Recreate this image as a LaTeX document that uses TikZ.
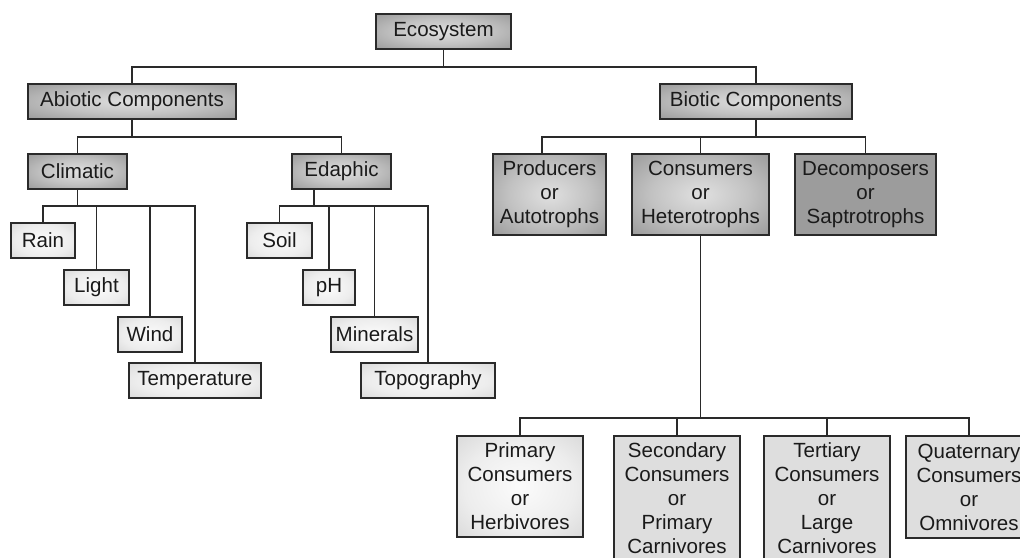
\documentclass[tikz,border=0pt]{standalone}
\usepackage{fontspec}
\setmainfont{Liberation Sans}
\usetikzlibrary{calc}
\definecolor{edgegray}{HTML}{2A2A2A}
\definecolor{linegray}{HTML}{2A2A2A}
\definecolor{txt}{HTML}{1A1A1A}
\definecolor{darkin}{HTML}{E0E0E0}
\definecolor{darkmid}{HTML}{C2C2C2}
\definecolor{darkout}{HTML}{7A7A7A}
\definecolor{leafin}{HTML}{FBFBFB}
\definecolor{leafmid}{HTML}{EDEDED}
\definecolor{leafout}{HTML}{C6C6C6}
% radial fills for the boxes (the box edges sit at 50bp)
\pgfdeclareradialshading{darkglow}{\pgfpoint{0bp}{0bp}}{color(0bp)=(darkin); color(18bp)=(darkmid); color(50bp)=(darkout)}
\pgfdeclareradialshading{leafglow}{\pgfpoint{0bp}{0bp}}{color(0bp)=(leafin); color(22bp)=(leafmid); color(50bp)=(leafout)}
\begin{document}
\begin{tikzpicture}[x=0.75pt,y=-0.75pt,
  every node/.style={font=\fontsize{15.4}{18}\selectfont, text=txt, align=center, inner sep=0pt},
  box/.style={draw=edgegray, line width=1.2pt, rectangle},
  darkbox/.style={box, shading=darkglow},
  flatdark/.style={box, fill=white!61!black},
  leafbox/.style={box, shading=leafglow},
  flatlight/.style={box, fill=white!87!black},
  link/.style={draw=linegray, line width=1.45pt}]
\useasboundingbox (0,0) rectangle (1020,557);
\clip (0,0) rectangle (1020,557);

% root and main branches
\node[darkbox, minimum width=101.25pt, minimum height=26.25pt] (eco) at (443.5,31.5) {Ecosystem};
\node[darkbox, minimum width=156pt, minimum height=26.25pt] (abio) at (132,101.5) {Abiotic Components};
\node[darkbox, minimum width=144pt, minimum height=26.25pt] (bio) at (756,101.5) {Biotic Components};

% abiotic side
\node[darkbox, minimum width=74.25pt, minimum height=26.25pt] (clim) at (77.5,171.5) {Climatic};
\node[darkbox, minimum width=74.25pt, minimum height=26.25pt] (eda) at (341.5,171.5) {Edaphic};

\node[leafbox, minimum width=48pt, minimum height=26.25pt] (rain) at (43,240.5) {Rain};
\node[leafbox, minimum width=48.75pt, minimum height=26.25pt] (light) at (96.5,287.5) {Light};
\node[leafbox, minimum width=48pt, minimum height=26.25pt] (wind) at (150,334.5) {Wind};
\node[leafbox, minimum width=99pt, minimum height=26.25pt] (temp) at (195,380.5) {Temperature};

\node[leafbox, minimum width=48.75pt, minimum height=26.25pt] (soil) at (279.5,240.5) {Soil};
\node[leafbox, minimum width=39pt, minimum height=26.25pt] (ph) at (329,287.5) {pH};
\node[leafbox, minimum width=65.25pt, minimum height=26.25pt] (minr) at (374.5,334.5) {Minerals};
\node[leafbox, minimum width=100.5pt, minimum height=26.25pt] (topo) at (428,380.5) {Topography};

% biotic side
\node[darkbox, minimum width=84.75pt, minimum height=60.75pt] (prod) at (549.5,194.5) {Producers\\or\\Autotrophs};
\node[darkbox, minimum width=102.75pt, minimum height=60.75pt] (cons) at (700.5,194.5) {Consumers\\or\\Heterotrophs};
\node[flatdark, minimum width=105.75pt, minimum height=60.75pt] (deco) at (865.5,194.5) {Decomposers\\or\\Saptrotrophs};

% consumer levels
\node[leafbox, minimum width=94.5pt, minimum height=75.75pt] (prim) at (520,486.5) {Primary\\Consumers\\or\\Herbivores};
\node[flatlight, minimum width=94.5pt, minimum height=93.75pt] (seco) at (677,498.5) {Secondary\\Consumers\\or\\Primary\\Carnivores};
\node[flatlight, minimum width=94.5pt, minimum height=93.75pt] (tert) at (827,498.5) {Tertiary\\Consumers\\or\\Large\\Carnivores};
\node[flatlight, minimum width=94.5pt, minimum height=76.5pt] (quat) at (969,487) {Quaternary\\Consumers\\or\\Omnivores};

% bus levels
\coordinate (busA) at (0,67);
\coordinate (busB) at (0,137);
\coordinate (busC) at (0,206);
\coordinate (busD) at (0,418);

% Ecosystem -> Abiotic / Biotic
\draw[link] (eco.south) -- (eco.south |- busA);
\draw[link] (abio.north) -- (abio.north |- busA) -- (bio.north |- busA) -- (bio.north);

% Abiotic -> Climatic / Edaphic
\draw[link] (abio.south) -- (abio.south |- busB);
\draw[link] (clim.north) -- (clim.north |- busB) -- (eda.north |- busB) -- (eda.north);

% Climatic -> factors
\draw[link] (clim.south) -- (clim.south |- busC);
\draw[link] (rain.north) -- (rain.north |- busC) -- (temp.north |- busC) -- (temp.north);
\draw[link] (light.north) -- (light.north |- busC);
\draw[link] (wind.north) -- (wind.north |- busC);

% Edaphic -> factors
\coordinate (edaout) at ($(eda.south west)!0.222!(eda.south east)$);
\draw[link] (edaout) -- (edaout |- busC);
\draw[link] (soil.north) -- (soil.north |- busC) -- (topo.north |- busC) -- (topo.north);
\draw[link] (ph.north) -- (ph.north |- busC);
\draw[link] (minr.north) -- (minr.north |- busC);

% Biotic -> producers, consumers, decomposers
\coordinate (prodin) at ($(prod.north west)!0.434!(prod.north east)$);
\draw[link] (bio.south) -- (bio.south |- busB);
\draw[link] (prodin) -- (prodin |- busB) -- (deco.north |- busB) -- (deco.north);
\draw[link] (cons.north) -- (cons.north |- busB);

% Consumers -> trophic levels
\draw[link] (cons.south) -- (cons.south |- busD);
\draw[link] (prim.north) -- (prim.north |- busD) -- (quat.north |- busD) -- (quat.north);
\draw[link] (seco.north) -- (seco.north |- busD);
\draw[link] (tert.north) -- (tert.north |- busD);
\end{tikzpicture}
\end{document}
